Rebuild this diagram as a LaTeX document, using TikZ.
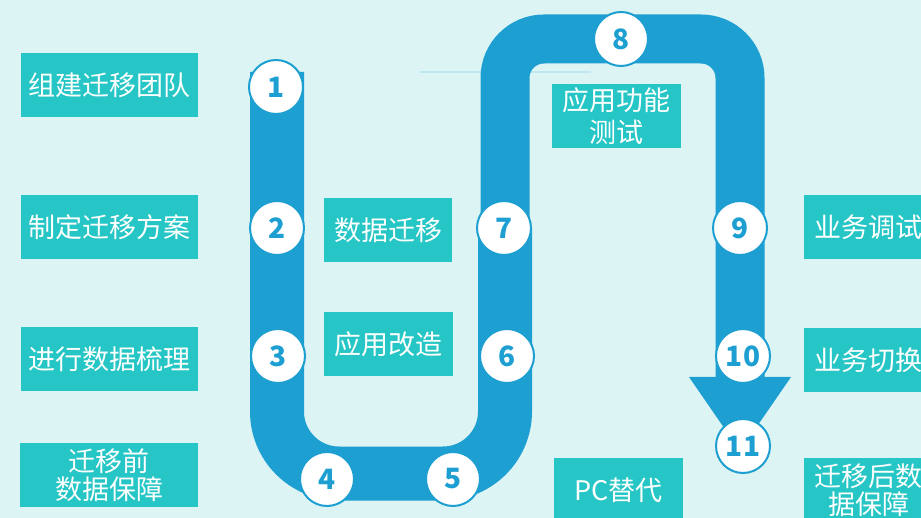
\documentclass[tikz,border=0pt]{standalone}
\usepackage{fontspec}
\setmainfont{Noto Sans CJK SC}
\definecolor{bgc}{HTML}{DDF4F5}
\definecolor{pipec}{HTML}{1E9FD2}
\definecolor{boxc}{HTML}{25C6C5}
\definecolor{thinc}{HTML}{BDE8F2}
\tikzset{
  tbox/.style={fill=boxc, text=white, inner sep=0pt, align=center, minimum height=64pt, font=\fontsize{27}{28}\selectfont},
  numc/.style={circle, fill=white, draw=pipec, line width=2pt, minimum size=54pt, inner sep=0pt, text=pipec, font=\fontsize{28}{28}\selectfont\bfseries},
  pipeline/.style={draw=pipec, line cap=butt},
}
\begin{document}
\begin{tikzpicture}[x=1pt,y=-1pt]
\useasboundingbox (0,0) rectangle (921,518);
\clip (0,0) rectangle (921,518);
\fill[bgc] (0,0) rectangle (921,518);
% thin line
\coordinate (t1) at (420,72);
\coordinate (t2) at (591,72);
\draw[thinc, line width=1.5pt] (t1) -- (t2);
% pipe coordinates
\coordinate (p0) at (277,72);
\coordinate (p1) at (277,473.5);
\coordinate (p2) at (505,473.5);
\coordinate (p3) at (505,228);
\coordinate (p4) at (505,39);
\coordinate (p5) at (740,39);
\coordinate (p6) at (740,378);
\draw[pipeline, line width=54pt] (p0) [rounded corners=62pt] -- (p1) -- (p2) [sharp corners] -- (p3);
\draw[pipeline, line width=49pt] (p3) [rounded corners=39pt] -- (p4) -- (p5) [sharp corners] -- (p6);
\coordinate (a1) at (689,377);
\coordinate (a2) at (791,377);
\coordinate (a3) at (740,451);
\fill[pipec] (a1) -- (a2) -- (a3) -- cycle;
% boxes
\node[tbox, minimum width=177pt] (b1) at (109.5,85) {组建迁移团队};
\node[tbox, minimum width=177pt] (b2) at (109.5,227) {制定迁移方案};
\node[tbox, minimum width=177pt] (b3) at (109.5,359.5) {进行数据梳理};
\node[tbox, minimum width=178pt] (b4) at (109,475) {迁移前\\数据保障};
\node[tbox, minimum width=128pt] (b5) at (388,230) {数据迁移};
\node[tbox, minimum width=129pt] (b6) at (388.5,344) {应用改造};
\node[tbox, minimum width=129pt, font=\fontsize{27}{32}\selectfont] (b7) at (616.5,116) {应用功能\\测试};
\node[tbox, minimum width=129pt] (b8) at (618.5,490) {PC替代};
\node[tbox, minimum width=129pt] (b9) at (868.5,227) {业务调试};
\node[tbox, minimum width=129pt] (b10) at (868.5,360) {业务切换};
\node[tbox, minimum width=129pt] (b11) at (868.5,490) {迁移后数\\据保障};
% circles
\node[numc] (n1) at (276,87) {1};
\node[numc] (n2) at (277,228) {2};
\node[numc] (n3) at (278,356) {3};
\node[numc] (n4) at (327,479) {4};
\node[numc] (n5) at (453,479) {5};
\node[numc] (n6) at (507,356) {6};
\node[numc] (n7) at (504,228) {7};
\node[numc] (n8) at (621,39) {8};
\node[numc] (n9) at (740,228) {9};
\node[numc] (n10) at (743,356) {10};
\node[numc] (n11) at (743,446) {11};
\end{tikzpicture}
\end{document}
